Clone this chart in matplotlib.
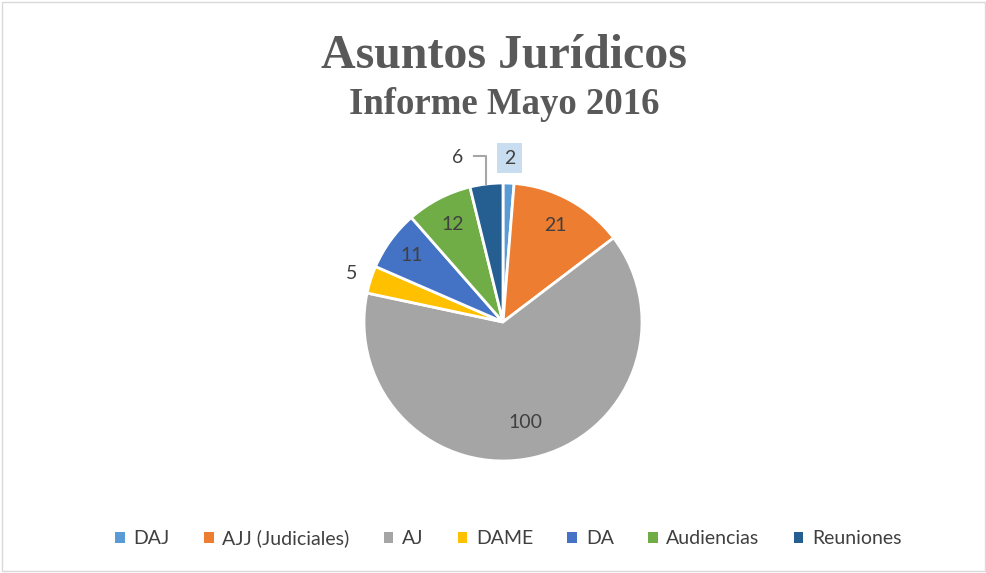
import matplotlib
matplotlib.use("Agg")
import matplotlib.pyplot as plt
import numpy as np
from matplotlib.patches import Rectangle, Patch

categories = ["DAJ", "AJJ (Judiciales)", "AJ", "DAME", "DA", "Audiencias", "Reuniones"]
values = [2, 21, 100, 5, 11, 12, 6]
colors = ["#5B9BD5", "#ED7D31", "#A5A5A5", "#FFC000", "#4472C4", "#70AD47", "#255E91"]
title = "Asuntos Jurídicos"
subtitle = "Informe Mayo 2016"

W, H = 987, 573
fig = plt.figure(figsize=(W / 100, H / 100), dpi=100)
ax = fig.add_axes([0, 0, 1, 1])

cx, cy, R = 503, H - 322, 139
wedges, _ = ax.pie(values, colors=colors, startangle=90, counterclock=False,
                   center=(cx, cy), radius=R, frame=True,
                   wedgeprops=dict(edgecolor="white", linewidth=2))
ax.set_xlim(0, W)
ax.set_ylim(0, H)
ax.axis("off")

lab_font = dict(fontsize=14, color="#404040", family="Lato", ha="center", va="center")
dist = [None, 0.79, 0.74, 1.14, 0.81, 0.79, None]
for w, v, d in zip(wedges, values, dist):
    mid = np.deg2rad((w.theta1 + w.theta2) / 2)
    if d is not None:
        ax.text(cx + d * R * np.cos(mid), cy + d * R * np.sin(mid), str(v), **lab_font)

# DAJ label with highlighted box
w = wedges[0]
mid = np.deg2rad((w.theta1 + w.theta2) / 2)
ax.text(cx + 1.18 * R * np.cos(mid), cy + 1.18 * R * np.sin(mid), str(values[0]),
        bbox=dict(boxstyle="square,pad=0.35", facecolor="#C9DDF0", edgecolor="none"),
        **lab_font)

# Reuniones label with leader line
w = wedges[6]
mid = np.deg2rad((w.theta1 + w.theta2) / 2)
ex, ey = cx + R * np.cos(mid), cy + R * np.sin(mid)
lx, ly = 458, H - 157
ax.plot([lx + 16, ex, ex], [ey + 28, ey + 28, ey], color="#A6A6A6", lw=1.5)
ax.text(lx, ly, str(values[6]), **lab_font)

fig.text(0.511, 1 - 56 / H, title, ha="center", va="center", fontsize=34.5,
         fontweight="bold", family="Liberation Serif", color="#595959")
fig.text(0.511, 1 - 104 / H, subtitle, ha="center", va="center", fontsize=26.5,
         fontweight="bold", family="Liberation Serif", color="#595959")

handles = [Patch(facecolor=c, edgecolor="none") for c in colors]
leg = fig.legend(handles, categories, loc="center", bbox_to_anchor=(0.515, 1 - 538 / H),
                 ncol=7, frameon=False, handlelength=0.5, handleheight=0.5,
                 handletextpad=0.45, columnspacing=1.75,
                 prop=dict(family="Lato", size=14))
for t in leg.get_texts():
    t.set_color("#404040")

fig.patches.append(Rectangle((0.002, 0.004), 0.996, 0.992, transform=fig.transFigure,
                             fill=False, edgecolor="#D9D9D9", lw=1))

fig.savefig("out.png", dpi=100, facecolor="white")
